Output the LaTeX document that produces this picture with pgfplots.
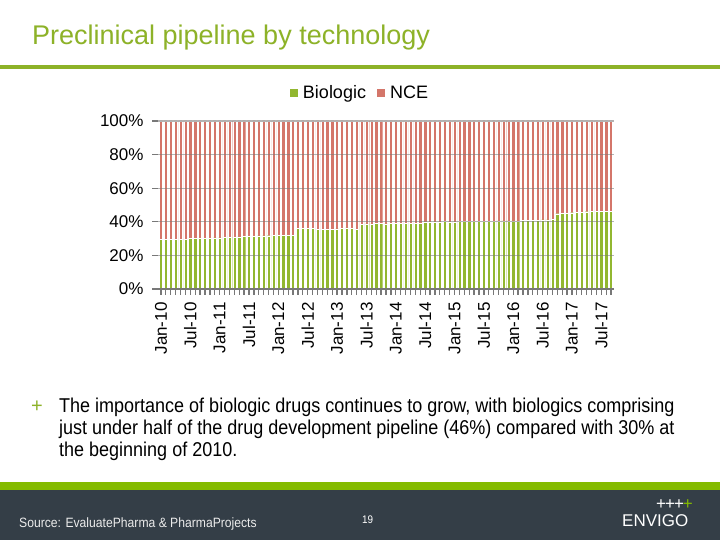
\documentclass[border=0pt]{standalone}
\usepackage{pgfplots}
\pgfplotsset{compat=1.18}
\usepackage{pgfplotstable}
\usepackage{fontspec}
\setmainfont{Liberation Sans}
\newfontfamily\narrowfont[FakeStretch=0.9]{Liberation Sans}
\definecolor{bio}{RGB}{146,183,48}
\definecolor{nce}{RGB}{212,118,106}
\definecolor{titlegreen}{RGB}{141,178,40}
\definecolor{footdark}{RGB}{52,62,71}
\definecolor{footgreen}{RGB}{132,187,0}
\definecolor{gridgray}{RGB}{120,120,120}

\pgfplotstableread{
x bio nce
0 29.5 70.5
1 29.5 70.5
2 29.5 70.5
3 29.6 70.4
4 29.6 70.4
5 29.7 70.3
6 30.0 70.0
7 30.0 70.0
8 30.1 69.9
9 30.2 69.8
10 30.3 69.7
11 30.4 69.6
12 30.5 69.5
13 30.6 69.4
14 30.7 69.3
15 30.8 69.2
16 31.0 69.0
17 31.2 68.8
18 31.5 68.5
19 31.5 68.5
20 31.6 68.4
21 31.6 68.4
22 31.7 68.3
23 31.8 68.2
24 31.8 68.2
25 31.9 68.1
26 32.0 68.0
27 32.0 68.0
28 36.2 63.8
29 36.3 63.7
30 36.1 63.9
31 35.9 64.1
32 35.6 64.4
33 35.5 64.5
34 35.6 64.4
35 35.5 64.5
36 35.8 64.2
37 36.2 63.8
38 36.4 63.6
39 36.3 63.7
40 35.3 64.7
41 38.5 61.5
42 38.7 61.3
43 38.8 61.2
44 38.9 61.1
45 39.0 61.0
46 38.8 61.2
47 38.9 61.1
48 39.0 61.0
49 39.1 60.9
50 39.0 61.0
51 39.0 61.0
52 39.1 60.9
53 39.2 60.8
54 39.9 60.1
55 40.0 60.0
56 40.0 60.0
57 40.0 60.0
58 40.1 59.9
59 40.0 60.0
60 40.0 60.0
61 40.1 59.9
62 40.1 59.9
63 40.2 59.8
64 40.2 59.8
65 40.3 59.7
66 40.3 59.7
67 40.4 59.6
68 40.4 59.6
69 40.5 59.5
70 40.5 59.5
71 40.5 59.5
72 40.6 59.4
73 40.6 59.4
74 40.7 59.3
75 40.8 59.2
76 40.9 59.1
77 41.0 59.0
78 41.1 58.9
79 41.2 58.8
80 41.3 58.7
81 44.8 55.2
82 45.0 55.0
83 45.2 54.8
84 45.4 54.6
85 45.6 54.4
86 45.8 54.2
87 46.0 54.0
88 46.1 53.9
89 46.2 53.8
90 46.3 53.7
91 46.4 53.6
92 46.4 53.6
}\datatable

\begin{document}
\begin{tikzpicture}[x=1bp,y=1bp]
\useasboundingbox (0,0) rectangle (720,540);
\fill[white] (0,0) rectangle (720,540);
% title
\node[anchor=base west, text=titlegreen, font=\fontsize{27bp}{30bp}\selectfont, inner sep=0] at (32,495) {Preclinical pipeline by technology};
\fill[titlegreen] (0,471) rectangle (720,475);

\begin{axis}[
  at={(158bp,251bp)}, anchor=south west, scale only axis,
  width=456bp, height=168bp,
  ybar stacked, bar width=0.66,
  xmin=-0.6, xmax=92.6, ymin=0, ymax=100,
  xtick={0,...,92},
  xticklabels={Jan-10,,,,,,Jul-10,,,,,,Jan-11,,,,,,Jul-11,,,,,,Jan-12,,,,,,Jul-12,,,,,,Jan-13,,,,,,Jul-13,,,,,,Jan-14,,,,,,Jul-14,,,,,,Jan-15,,,,,,Jul-15,,,,,,Jan-16,,,,,,Jul-16,,,,,,Jan-17,,,,,,Jul-17,,},
  x tick label style={rotate=90, anchor=east, font=\fontsize{17bp}{19bp}\selectfont},
  xticklabel shift=4bp,
  ytick={0,20,...,100},
  yticklabel={\pgfmathprintnumber{\tick}\%},
  y tick label style={font=\fontsize{17bp}{19bp}\selectfont},
  yticklabel shift=5bp,
  /pgf/number format/assume math mode=true,
  axis on top,
  ymajorgrids, grid style={gridgray, line width=1.2bp, opacity=0.55},
  axis x line*=bottom, axis y line*=left,
  axis line style={gridgray, line width=1.5bp, -},
  y axis line style={draw=none},
  tick style={gridgray, line width=1.3bp},
  tick align=outside, major tick length=6bp,
  legend style={at={(0.443,1.167)}, anchor=center, draw=none, fill=none,
    legend columns=2, font=\fontsize{18bp}{20bp}\selectfont,
    nodes={inner xsep=2bp},
    /tikz/every even column/.append style={column sep=9bp}},
  legend image code/.code={\fill[#1, draw=none] (0bp,-4bp) rectangle (8bp,4bp);},
]
\addplot[fill=bio, draw=white, line width=0.4bp] table[x=x,y=bio]{\datatable};
\addplot[fill=nce, draw=white, line width=0.4bp] table[x=x,y=nce]{\datatable};
\legend{\hspace{3bp}Biologic, \hspace{3bp}NCE}
\end{axis}

% body text
\node[anchor=base west, text=titlegreen, font=\fontsize{20bp}{22bp}\selectfont, inner sep=0] at (31,127) {+};
\begin{scope}[every node/.style={anchor=base west, inner sep=0, font=\narrowfont\fontsize{20bp}{22bp}\selectfont}]
\node at (59,127) {The importance of biologic drugs continues to grow, with biologics comprising};
\node at (59,105) {just under half of the drug development pipeline (46\%) compared with 30\% at};
\node at (59,83) {the beginning of 2010.};
\end{scope}

% footer
\fill[footgreen] (0,50) rectangle (720,58);
\fill[footdark] (0,0) rectangle (720,50);
\node[anchor=base west, inner sep=0, text=white!85!gray, font=\narrowfont\fontsize{13.5bp}{16bp}\selectfont] at (19,12) {Source: EvaluatePharma \& PharmaProjects};
\node[anchor=base west, inner sep=0, text=white, font=\narrowfont\fontsize{11bp}{13bp}\selectfont] at (362,16) {19};
\node[anchor=base west, inner sep=0, text=white, font=\fontsize{17bp}{19bp}\selectfont] at (622,13) {ENVIGO};
\node[anchor=base west, inner sep=0, text=white, font=\fontsize{17bp}{19bp}\selectfont] at (656,30) {+\kern-1bp+\kern-1bp+\kern-1bp\textcolor{footgreen}{+}};
\end{tikzpicture}
\end{document}
